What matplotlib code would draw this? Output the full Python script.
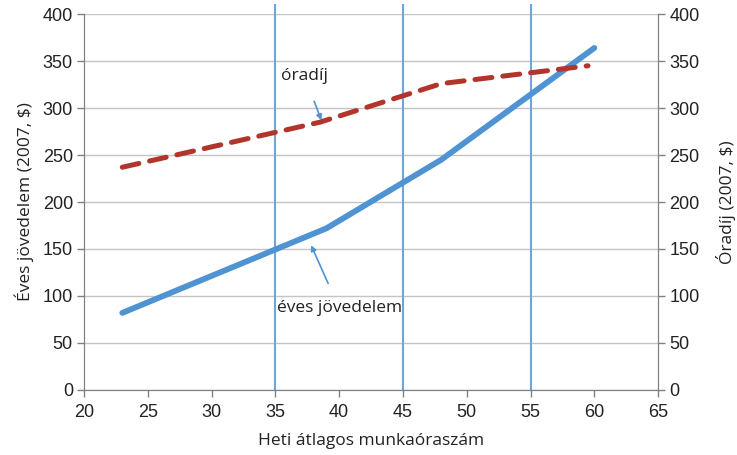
import matplotlib
matplotlib.use("Agg")
import matplotlib.pyplot as plt

# weekly hours vs annual income (thousand $) and hourly wage
income_hours = [23, 39, 48, 60]
income_vals = [82, 172, 245, 364]
wage_hours = [23, 38.5, 48, 59.5]
wage_vals = [237, 285, 326, 345]
marker_hours = [35, 45, 55]
yticks = list(range(0, 401, 50))
xticks = list(range(20, 66, 5))

BLUE = "#4f93d2"
VLINE = "#6fa6d8"
RED = "#b2352c"
AXC = "#808080"
TXT = "#222222"

fig = plt.figure(figsize=(7.37, 4.55), dpi=100)
ax = fig.add_axes([0.114, 0.143, 0.779, 0.826])
ax2 = ax.twinx()

for a in (ax, ax2):
    a.set_ylim(0, 400)
    a.set_yticks(yticks)
    a.spines["top"].set_visible(False)
    for s in ("left", "right", "bottom"):
        a.spines[s].set_color(AXC)
    a.tick_params(axis="y", colors=AXC, labelcolor=TXT,
                  labelsize=13, length=5, width=1, pad=3)
    a.set_yticklabels([str(v) for v in yticks], family="Liberation Sans")

ax.set_xlim(20, 65)
ax.set_xticks(xticks)
ax.set_xticklabels([str(v) for v in xticks], family="Liberation Sans")
ax.tick_params(axis="x", colors=AXC, labelcolor=TXT,
               labelsize=13, length=5, width=1, pad=5)
ax.grid(axis="y", color="#c4c4c4", lw=1)
ax.set_axisbelow(True)

for h in marker_hours:
    ax.axvline(h, ymin=0, ymax=1.025, color=VLINE, lw=1.5, clip_on=False,
               zorder=2)

ax.plot(income_hours, income_vals, color=BLUE, lw=4.2,
        solid_capstyle="round", zorder=4)
ax.plot(wage_hours, wage_vals, color=RED, lw=3.6, ls=(0, (3.4, 2.2)),
        dash_capstyle="round", zorder=4)

ax.annotate("óradíj", xy=(38.6, 287), xytext=(37.3, 334),
            fontsize=12.5, family="Open Sans", color=TXT,
            ha="center", va="center",
            arrowprops=dict(arrowstyle="-|>", color=BLUE, lw=1.2,
                            mutation_scale=8, shrinkA=11, shrinkB=0))
ax.annotate("éves jövedelem", xy=(37.8, 154), xytext=(40, 87),
            fontsize=12.5, family="Open Sans", color=TXT,
            ha="center", va="center",
            arrowprops=dict(arrowstyle="-|>", color=BLUE, lw=1.2,
                            mutation_scale=8, shrinkA=11, shrinkB=0))

ax.set_xlabel("Heti átlagos munkaóraszám", fontsize=12.5,
              family="Open Sans", color=TXT, labelpad=9)
ax.set_ylabel("Éves jövedelem (2007, $)", fontsize=12.5,
              family="Open Sans", color=TXT, labelpad=6)
ax2.set_ylabel("Óradíj (2007, $)", fontsize=12.5,
               family="Open Sans", color=TXT, labelpad=12)

fig.savefig("out.png", dpi=100)
